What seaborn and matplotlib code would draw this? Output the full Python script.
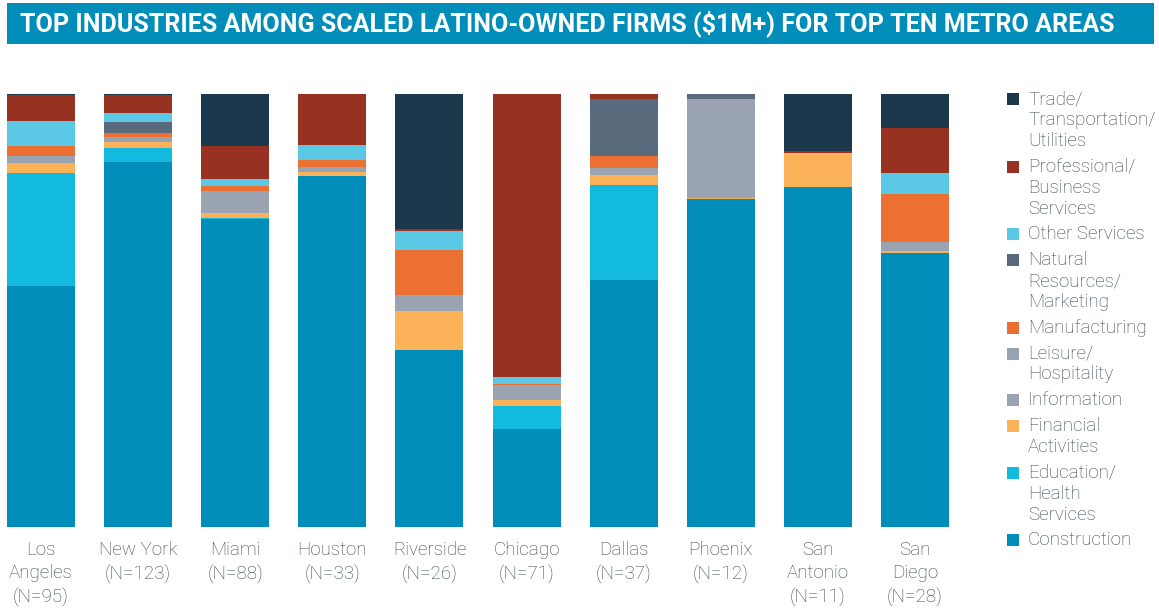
import numpy as np
import pandas as pd
import matplotlib
matplotlib.use("Agg")
import matplotlib.pyplot as plt
from matplotlib.patches import Rectangle
import seaborn as sns

# ---------------- data ----------------
metros = ["Los\nAngeles\n(N=95)", "New York\n(N=123)", "Miami\n(N=88)", "Houston\n(N=33)",
          "Riverside\n(N=26)", "Chicago\n(N=71)", "Dallas\n(N=37)", "Phoenix\n(N=12)",
          "San\nAntonio\n(N=11)", "San\nDiego\n(N=28)"]

# industries stacked from bottom to top (shares in %)
construction  = [55.7, 84.3, 71.1, 81.1, 40.9, 22.6, 57.0, 75.8, 78.8, 63.3]
education     = [26.1,  3.2,  0.3,  0.0,  0.0,  5.3, 21.9,  0.0,  0.0,  0.0]
financial     = [ 2.3,  1.4,  1.2,  0.9,  9.0,  1.4,  2.5,  0.3,  7.9,  0.5]
information   = [ 0.8,  0.6,  2.5,  0.6,  1.8,  1.7,  0.7, 11.4,  0.0,  1.0]
leisure       = [ 0.8,  0.6,  2.6,  0.6,  1.9,  1.8,  0.7, 11.5,  0.0,  1.1]
manufacturing = [ 2.3,  0.9,  1.2,  1.6, 10.4,  0.2,  2.8,  0.0,  0.0, 11.1]
natural_res   = [ 0.0,  2.5,  0.0,  0.0,  0.0,  0.0, 13.2,  1.2,  0.0,  0.0]
other_serv    = [ 5.8,  2.1,  1.6,  3.5,  4.4,  1.8,  0.0,  0.0,  0.0,  4.8]
professional  = [ 6.0,  4.2,  7.6, 11.8,  0.5, 65.4,  1.2,  0.0,  0.5, 10.4]
trade         = [ 0.3,  0.2, 12.0,  0.0, 31.2,  0.0,  0.0,  0.0, 13.2,  7.9]

industries = ["Construction", "Education/\nHealth\nServices", "Financial\nActivities",
              "Information", "Leisure/\nHospitality", "Manufacturing",
              "Natural\nResources/\nMarketing", "Other Services",
              "Professional/\nBusiness\nServices", "Trade/\nTransportation/\nUtilities"]
series = [construction, education, financial, information, leisure, manufacturing,
          natural_res, other_serv, professional, trade]
colors = ["#008DB9", "#13BAE0", "#FBB258", "#9AA3B1", "#9AA3B1", "#EB7031",
          "#5A6A7D", "#5BC8E6", "#973121", "#1B384D"]

# normalise each metro to 100 %
arr = np.array(series, dtype=float)
arr = arr / arr.sum(axis=0) * 100

# ---------------- figure ----------------
sns.set_theme(style="white")
plt.rcParams["font.family"] = ["Roboto", "DejaVu Sans"]
W, H = 1159, 611
fig = plt.figure(figsize=(W / 100, H / 100), dpi=100)
ax = fig.add_axes([7 / W, 1 - 527 / H, (949 - 7) / W, (527 - 94) / H])

text_col = "#36434F"
bottom = np.zeros(len(metros))
for name, vals, col in zip(industries, arr, colors):
    df = pd.DataFrame({"metro": metros, "share": vals})
    sns.barplot(data=df, x="metro", y="share", color=col, width=0.7, bottom=bottom,
                linewidth=0, saturation=1, ax=ax, errorbar=None)
    bottom = bottom + vals

ax.set_xlim(-0.35, 9.35)
ax.set_ylim(0, 100)
ax.set_xlabel("")
ax.set_ylabel("")
ax.set_yticks([])
for s in ax.spines.values():
    s.set_visible(False)
ax.tick_params(axis="x", length=0, pad=10)
for lbl in ax.get_xticklabels():
    lbl.set_fontsize(13.5)
    lbl.set_fontweight("light")
    lbl.set_color(text_col)
    lbl.set_linespacing(1.4)
    lbl.set_va("top")

# ---------------- title banner ----------------
fig.add_artist(Rectangle((7 / W, 1 - 44 / H), (1154 - 7) / W, (44 - 3) / H,
                         transform=fig.transFigure, facecolor="#008DB9", edgecolor="none"))
fig.text(20 / W, 1 - 24 / H, "TOP INDUSTRIES AMONG SCALED LATINO-OWNED FIRMS ($1M+) FOR TOP TEN METRO AREAS",
         color="white", fontsize=18.1, fontweight="bold", va="center", ha="left")

# ---------------- legend (drawn manually, top entry first) ----------------
y = 99.0
L, g = 21.0, 4.7
for name, col in zip(industries[::-1], colors[::-1]):
    lines = name.split("\n")
    fig.add_artist(Rectangle((1007 / W, 1 - (y + 6) / H), 12 / W, 12 / H,
                             transform=fig.transFigure, facecolor=col, edgecolor="none"))
    for i, ln in enumerate(lines):
        fig.text(1028 / W, 1 - (y + i * L) / H, ln, fontsize=13.5, fontweight="light",
                 color=text_col, va="center", ha="left")
    y += len(lines) * L + g

fig.savefig("out.png", dpi=100)
